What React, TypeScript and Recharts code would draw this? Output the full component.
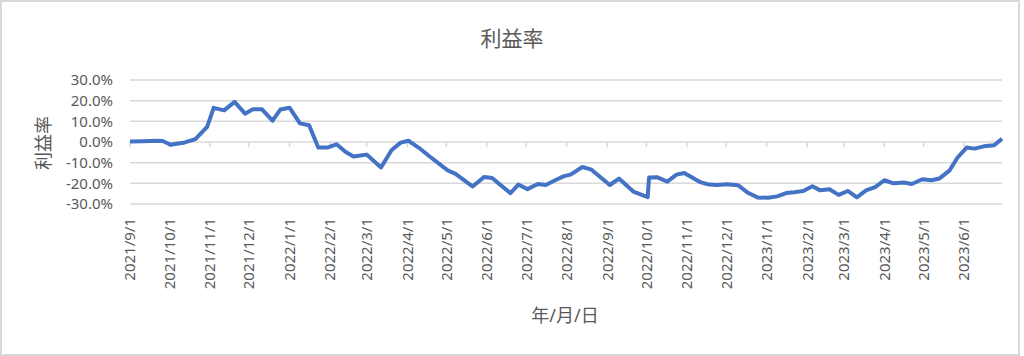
import React from "react";
import {
  LineChart,
  Line,
  XAxis,
  YAxis,
  CartesianGrid,
  ReferenceLine,
} from "recharts";

// observation dates (y/m/d) and profit rate in %
const dates = [
  "2021/9/1", "2021/9/11", "2021/9/22", "2021/9/26", "2021/10/2", "2021/10/13",
  "2021/10/21", "2021/10/30", "2021/11/4", "2021/11/12", "2021/11/20", "2021/11/28",
  "2021/12/4", "2021/12/11", "2021/12/19", "2021/12/25", "2022/1/1", "2022/1/9",
  "2022/1/16", "2022/1/23", "2022/1/30", "2022/2/6", "2022/2/13", "2022/2/19",
  "2022/3/1", "2022/3/12", "2022/3/20", "2022/3/27", "2022/4/2", "2022/4/10",
  "2022/4/18", "2022/5/2", "2022/5/8", "2022/5/21", "2022/5/30", "2022/6/5",
  "2022/6/19", "2022/6/25", "2022/7/2", "2022/7/10", "2022/7/16", "2022/7/24",
  "2022/7/30", "2022/8/4", "2022/8/13", "2022/8/20", "2022/9/3", "2022/9/10",
  "2022/9/21", "2022/10/2", "2022/10/3", "2022/10/9", "2022/10/17", "2022/10/24",
  "2022/10/30", "2022/11/11", "2022/11/18", "2022/11/24", "2022/12/2", "2022/12/10",
  "2022/12/18", "2022/12/25", "2023/1/2", "2023/1/9", "2023/1/16", "2023/1/22",
  "2023/1/29", "2023/2/5", "2023/2/11", "2023/2/18", "2023/2/25", "2023/3/4",
  "2023/3/11", "2023/3/18", "2023/3/25", "2023/4/1", "2023/4/8", "2023/4/16",
  "2023/4/22", "2023/4/30", "2023/5/7", "2023/5/13", "2023/5/21", "2023/5/27",
  "2023/6/3", "2023/6/9", "2023/6/16", "2023/6/24", "2023/6/30",
];

const rates = [
  0.2, 0.4, 0.6, 0.5, -1.3, -0.2,
  1.4, 7.3, 16.5, 15.3, 19.4, 13.7,
  15.8, 15.8, 10.3, 15.7, 16.6, 9.0,
  8.1, -2.7, -2.7, -1.1, -4.8, -7.0,
  -6.1, -12.3, -4.0, -0.3, 0.6, -2.8,
  -6.9, -13.7, -15.4, -21.5, -16.9, -17.4,
  -24.8, -20.6, -22.8, -20.3, -20.8, -18.3,
  -16.5, -15.8, -12.1, -13.4, -20.8, -17.7,
  -24.0, -26.7, -17.2, -17.0, -19.2, -15.8,
  -15.0, -19.4, -20.6, -20.8, -20.4, -20.9,
  -24.7, -26.8, -27.0, -26.3, -24.7, -24.3,
  -23.7, -21.4, -23.4, -22.9, -25.6, -23.7,
  -26.8, -23.4, -21.8, -18.5, -20.0, -19.6,
  -20.3, -18.0, -18.5, -17.7, -13.7, -7.5,
  -2.7, -3.2, -2.1, -1.6, 1.6,
];

const monthTicks = [
  "2021/9/1", "2021/10/1", "2021/11/1", "2021/12/1", "2022/1/1", "2022/2/1",
  "2022/3/1", "2022/4/1", "2022/5/1", "2022/6/1", "2022/7/1", "2022/8/1",
  "2022/9/1", "2022/10/1", "2022/11/1", "2022/12/1", "2023/1/1", "2023/2/1",
  "2023/3/1", "2023/4/1", "2023/5/1", "2023/6/1",
];

const yTicks = [-30, -20, -10, 0, 10, 20, 30];

const FONT = '"Noto Sans", "Noto Sans CJK JP", sans-serif';
const CJK = '"Noto Sans CJK JP", sans-serif';
const GREY = "#595959";

const toDay = (s: string) => {
  const [y, m, d] = s.split("/").map(Number);
  return Date.UTC(y, m - 1, d) / 86400000;
};

const data = dates.map((d, i) => ({ t: toDay(d), rate: rates[i] }));
const tickDays = monthTicks.map(toDay);
const labelOf: Record<number, string> = {};
monthTicks.forEach((s) => (labelOf[toDay(s)] = s));

const DateTick = (props: any) => {
  const { x, y, payload } = props;
  return (
    <text
      x={x}
      y={y}
      dy="0.36em"
      textAnchor="end"
      transform={`rotate(-90, ${x}, ${y})`}
      fill={GREY}
      fontSize={15}
      fontFamily={FONT}
    >
      {labelOf[payload.value]}
    </text>
  );
};

export default function App() {
  return (
    <div
      style={{
        position: "absolute",
        left: 0,
        top: 0,
        width: 1020,
        height: 356,
        background: "#fff",
      }}
    >
      <LineChart
        width={1020}
        height={356}
        data={data}
        margin={{ top: 80, right: 18, bottom: 0, left: 0 }}
      >
        <CartesianGrid vertical={false} stroke="#d9d9d9" strokeWidth={1.5} />
        <XAxis
          dataKey="t"
          type="number"
          domain={[toDay("2021/9/1"), toDay("2023/6/30")]}
          ticks={tickDays}
          interval={0}
          height={152}
          axisLine={false}
          tickLine={false}
          tickSize={0}
          tickMargin={14}
          tick={<DateTick />}
        />
        <YAxis
          type="number"
          domain={[-30, 30]}
          ticks={yTicks}
          interval={0}
          width={130}
          axisLine={false}
          tickLine={false}
          tickSize={0}
          tickMargin={17}
          tickFormatter={(v: number) => `${v.toFixed(1)}%`}
          tick={{ fill: GREY, fontSize: 15, fontFamily: FONT }}
        />
        {tickDays.map((t) => (
          <ReferenceLine
            key={t}
            segment={[
              { x: t, y: 0 },
              { x: t, y: -2.5 },
            ]}
            stroke="#d9d9d9"
            strokeWidth={1.5}
            ifOverflow="visible"
          />
        ))}
        <Line
          type="linear"
          dataKey="rate"
          stroke="#4472C4"
          strokeWidth={4}
          strokeLinejoin="round"
          dot={false}
          isAnimationActive={false}
        />
        <text x={512} y={37} textAnchor="middle" dominantBaseline="central" fill={GREY} fontSize={21} fontFamily={CJK}>
          利益率
        </text>
        <text
          x={42}
          y={143}
          textAnchor="middle"
          dominantBaseline="central"
          transform="rotate(-90, 42, 143)"
          fill={GREY}
          fontSize={18}
          fontFamily={CJK}
        >
          利益率
        </text>
        <text x={565} y={315} textAnchor="middle" dominantBaseline="central" fill={GREY} fontSize={18} fontFamily={FONT}>
          年/月/日
        </text>
      </LineChart>
      <div
        style={{
          position: "absolute",
          inset: 0,
          border: "2px solid #d9d9d9",
          pointerEvents: "none",
        }}
      />
    </div>
  );
}
